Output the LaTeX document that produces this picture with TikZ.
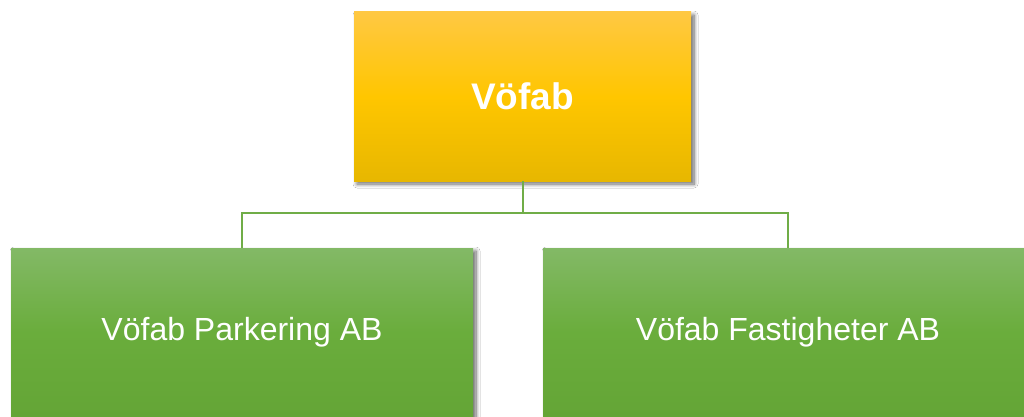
\documentclass[tikz,border=0pt]{standalone}
\usepackage{fontspec}
\setmainfont{Liberation Sans}
\usetikzlibrary{shadows.blur}
\definecolor{ytop}{HTML}{FFC843}
\definecolor{ymid}{HTML}{FFC600}
\definecolor{ybot}{HTML}{E7B700}
\definecolor{gtop}{HTML}{83B966}
\definecolor{gmid}{HTML}{6AAD3C}
\definecolor{gbot}{HTML}{64A536}
\definecolor{linegreen}{HTML}{70AD47}
\tikzset{
  boxshadow/.style={blur shadow={shadow xshift=3pt, shadow yshift=-3pt, shadow blur steps=8, shadow blur radius=4pt, shadow opacity=60}},
  topbox/.style={rectangle, inner sep=0pt, minimum width=337pt, minimum height=169pt,
    top color=ytop, bottom color=ybot, middle color=ymid, boxshadow,
    text=white, font=\fontsize{37}{44}\selectfont\bfseries},
  childbox/.style={rectangle, inner sep=0pt, minimum height=169pt,
    top color=gtop, bottom color=gbot, middle color=gmid, boxshadow,
    text=white, font=\fontsize{32}{38}\selectfont},
  conn/.style={draw=linegreen, line width=2pt}
}
\begin{document}
\begin{tikzpicture}[x=1pt,y=-1pt]
\useasboundingbox (0,0) rectangle (1024,417);
\clip (0,0) rectangle (1024,417);
\fill[white] (0,0) rectangle (1024,417);
\node[topbox] (root) at (522.5,96.5) {Vöfab};
\coordinate (bus) at (522.5,213);
\node[childbox, minimum width=462pt] (park) at (242,332.5) {Vöfab Parkering AB};
\node[childbox, minimum width=490pt] (fast) at (788,332.5) {Vöfab Fastigheter AB};
\draw[conn] (root.south) -- (bus) -| (park.north);
\draw[conn] (bus) -| (fast.north);
\end{tikzpicture}
\end{document}
